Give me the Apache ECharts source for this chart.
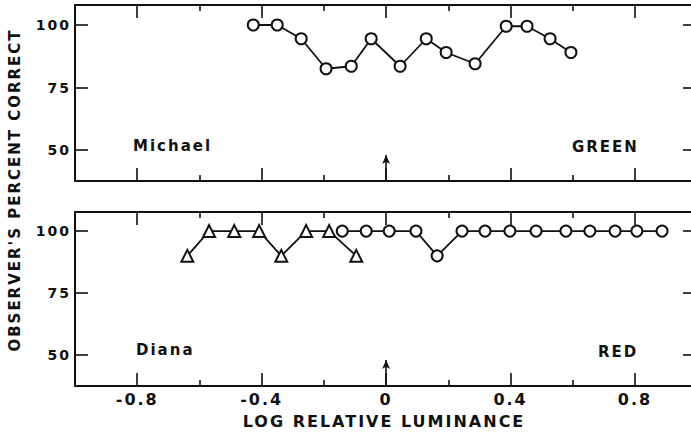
<!DOCTYPE html>
<html><head><meta charset="utf-8">
<script src="https://cdn.jsdelivr.net/npm/echarts@6/dist/echarts.min.js"></script>
<style>html,body{margin:0;padding:0;background:#fff;overflow:hidden}#c{width:691px;height:433px}
#c text{letter-spacing:2px}</style>
</head><body><div id="c"></div>
<script>
// ---- data ----
const greenX = [-0.427,-0.350,-0.273,-0.193,-0.112,-0.048,0.045,0.129,0.193,0.286,0.386,0.453,0.527,0.594];
const greenY = [100,100,94.5,82.5,83.5,94.5,83.5,94.5,89,84.5,99.5,99.5,94.5,89];
const redTriX = [-0.639,-0.569,-0.488,-0.408,-0.337,-0.257,-0.183,-0.096];
const redTriY = [90,100,100,100,90,100,100,90];
const redCircX = [-0.141,-0.064,0.010,0.096,0.164,0.244,0.318,0.398,0.482,0.578,0.655,0.736,0.806,0.887];
const redCircY = [100,100,100,100,90,100,100,100,100,100,100,100,100,100];
const xMajorTicks = [-0.8,-0.4,0,0.4,0.8];
const xMinorTicks = [-1.0,-0.6,-0.2,0.2,0.6,1.0];
const yTicks = [50,75,100];
const arrowX = [0];
const panelNames = ['Michael','Diana'];
const panelColors = ['GREEN','RED'];
const xTitle = 'LOG RELATIVE LUMINANCE';
const yTitle = "OBSERVER'S PERCENT CORRECT";

const FONT = 'DejaVu Sans';
const BLACK = '#111';
const X_MIN = -1, X_MAX = 0.98;   // the frame's right side falls just outside the picture
const zip = (a,b) => a.map((v,i)=>[v,b[i]]);
const inX = arr => arr.filter(v => v >= X_MIN && v <= X_MAX);
const fmtX = v => v === 0 ? '0' : (v < 0 ? '-' : '') + Math.abs(v).toFixed(1);

const yRanges = [[37.6,108],[37.5,107.7]];
const grids = [
  {left:75, right:0, top:5, height:176},
  {left:75, right:0, top:212, height:174}
];

const xAxes = [];
const yAxes = [];
[0,1].forEach(g => {
  const base = {type:'value', gridIndex:g, min:X_MIN, max:X_MAX, splitLine:{show:false}};
  xAxes.push(Object.assign({}, base, {
    position:'bottom',
    axisLine:{show:true, onZero:false, lineStyle:{color:BLACK, width:2}},
    axisTick:{show:true, inside:true, length:13, customValues:inX(xMajorTicks), lineStyle:{color:BLACK, width:1.6}},
    axisLabel:{show:g===1, customValues:inX(xMajorTicks), formatter:fmtX, color:BLACK, fontSize:16, fontFamily:FONT, fontWeight:'bold', margin:5},
    name: g===1 ? xTitle : '', nameLocation:'middle', nameGap:27,
    nameTextStyle:{color:BLACK, fontSize:16, fontFamily:FONT, fontWeight:'bold', padding:[0,0,0,2]}
  }));
  xAxes.push(Object.assign({}, base, {
    position:'bottom',
    axisLine:{show:false, onZero:false},
    axisTick:{show:true, inside:true, length:6, customValues:inX(xMinorTicks), lineStyle:{color:BLACK, width:1.6}},
    axisLabel:{show:false}
  }));
  xAxes.push(Object.assign({}, base, {
    position:'top',
    axisLine:{show:true, onZero:false, lineStyle:{color:BLACK, width:2}},
    axisTick:{show:true, inside:true, length:13, customValues:inX(xMajorTicks), lineStyle:{color:BLACK, width:1.6}},
    axisLabel:{show:false}
  }));
  xAxes.push(Object.assign({}, base, {
    position:'top',
    axisLine:{show:false, onZero:false},
    axisTick:{show:true, inside:true, length:6, customValues:inX(xMinorTicks), lineStyle:{color:BLACK, width:1.6}},
    axisLabel:{show:false}
  }));
  const yb = {type:'value', gridIndex:g, min:yRanges[g][0], max:yRanges[g][1], splitLine:{show:false}};
  yAxes.push(Object.assign({}, yb, {
    position:'left',
    axisLine:{show:true, onZero:false, lineStyle:{color:BLACK, width:2}},
    axisTick:{show:true, inside:true, length:13, customValues:yTicks, lineStyle:{color:BLACK, width:1.6}},
    axisLabel:{show:true, customValues:yTicks, color:BLACK, fontSize:14, fontFamily:FONT, fontWeight:'bold', margin:4}
  }));
  yAxes.push(Object.assign({}, yb, {
    position:'right',
    axisLine:{show:false, onZero:false},
    axisTick:{show:true, inside:true, length:8, customValues:yTicks, lineStyle:{color:BLACK, width:1.6}},
    axisLabel:{show:false}
  }));
});

const lineSeries = (name, xs, ys, g, symbol, size) => ({
  name, type:'line', xAxisIndex:g*4, yAxisIndex:g*2,
  data: zip(xs, ys), symbol, symbolSize:size, showSymbol:true,
  lineStyle:{color:BLACK, width:1.8},
  itemStyle:{color:'#fff', borderColor:BLACK, borderWidth:2},
  z:3
});

const arrowSeries = g => ({
  type:'line', xAxisIndex:g*4, yAxisIndex:g*2, data:[], silent:true,
  markLine:{
    silent:true, symbol:['none','arrow'], symbolSize:[6,9],
    lineStyle:{color:BLACK, width:1.6, type:'solid'}, label:{show:false},
    data: arrowX.map(x => [{coord:[x, yRanges[g][0]]},{coord:[x, 48]}])
  }
});

const txt = (text, x, y, size, extra) => Object.assign({
  type:'text', x, y,
  style:{text, fill:BLACK, font:`bold ${size}px "${FONT}"`, textAlign:'left', textVerticalAlign:'middle'}
}, extra||{});

const option = {
  animation:false,
  backgroundColor:'#fff',
  grid:grids,
  xAxis:xAxes,
  yAxis:yAxes,
  series:[
    lineSeries('green', greenX, greenY, 0, 'circle', 11),
    lineSeries('redTri', redTriX, redTriY, 1, 'triangle', 12),
    lineSeries('redCirc', redCircX, redCircY, 1, 'circle', 11),
    arrowSeries(0), arrowSeries(1)
  ],
  graphic:[
    txt(panelNames[0], 133, 146, 15),
    txt(panelColors[0], 572, 147, 15),
    txt(panelNames[1], 136, 350, 15),
    txt(panelColors[1], 598, 352, 15),
    {type:'text', x:15, y:190, rotation:Math.PI/2,
     style:{text:yTitle, fill:BLACK, font:`bold 15px "${FONT}"`, textAlign:'center', textVerticalAlign:'middle'}}
  ]
};
echarts.init(document.getElementById('c'), null, {renderer:'svg'}).setOption(option);
</script></body></html>
